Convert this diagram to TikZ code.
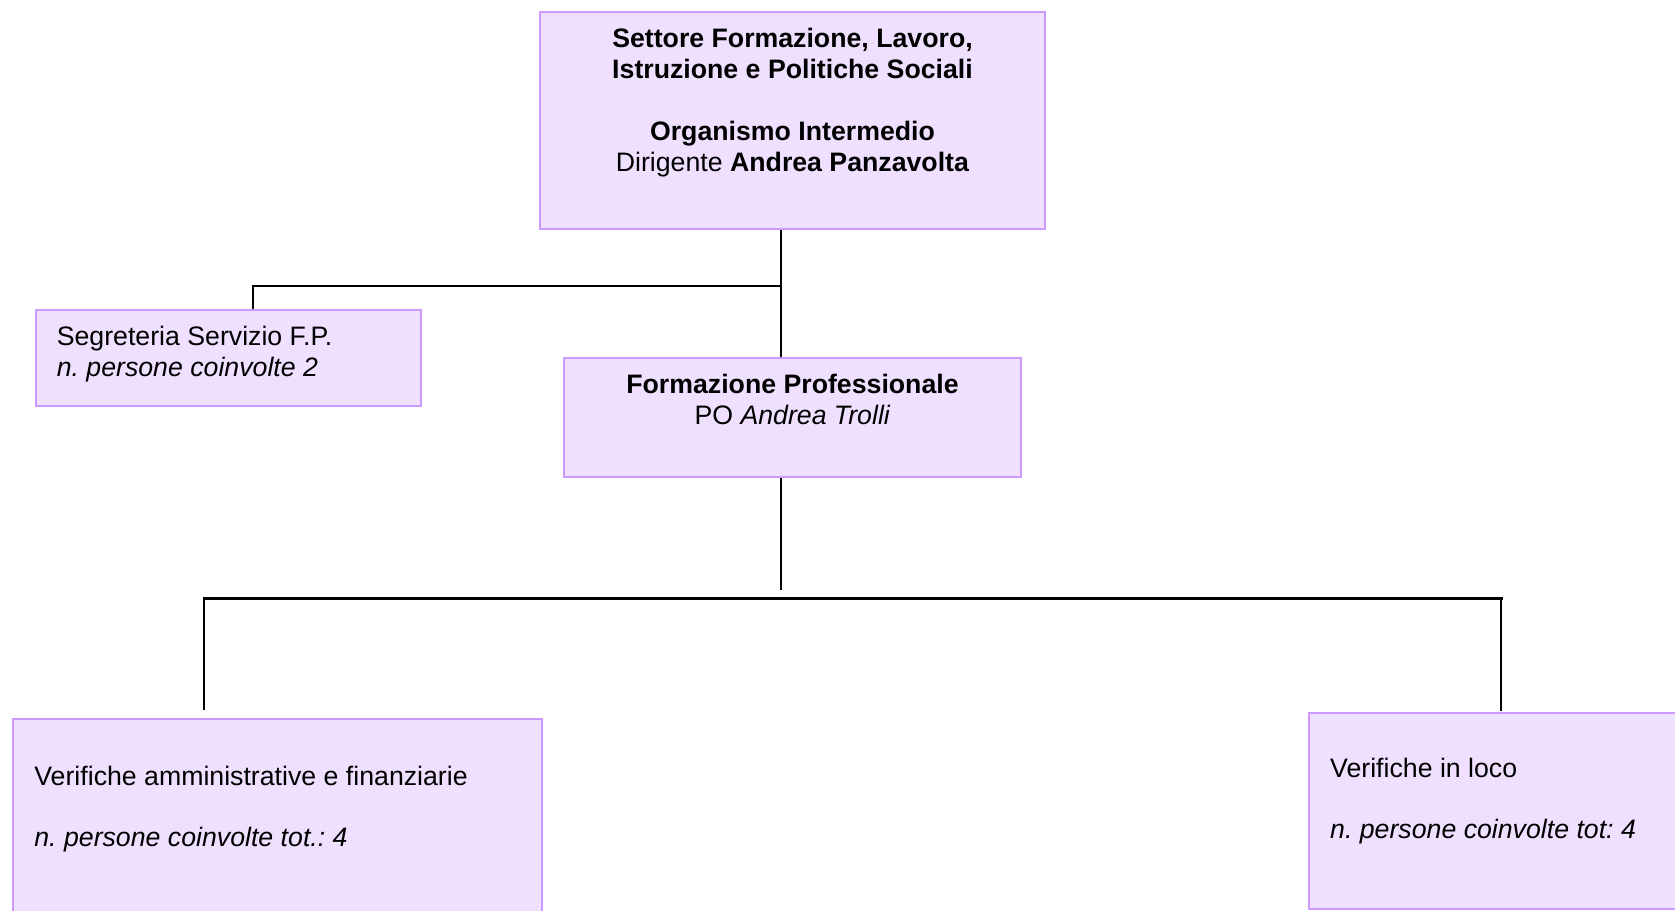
\documentclass[tikz,border=0pt]{standalone}
\usepackage{fontspec}
\setmainfont{Liberation Sans}
\usetikzlibrary{fit}
\definecolor{boxfill}{RGB}{240,224,255}
\definecolor{boxline}{RGB}{204,153,255}
\frenchspacing
\tikzset{
  orgbox/.style={draw=boxline, fill=boxfill, line width=2pt, inner sep=0pt, rectangle},
  conn/.style={draw=black, line width=2pt},
  busline/.style={draw=black, line width=3pt, line cap=rect},
  lbl/.style={inner sep=0pt, font=\fontsize{26.7}{31}\selectfont},
}
\begin{document}
\begin{tikzpicture}[x=1pt,y=-1pt]
\useasboundingbox (0,0) rectangle (1675,910);
\clip (0,0) rectangle (1675,910);
\fill[white] (0,0) rectangle (1675,910);

% boxes
\node[orgbox, fit={(540,12) (1045,229)}] (top) {};
\node[orgbox, fit={(36,310) (421,406)}] (seg) {};
\node[orgbox, fit={(564,358) (1021,477)}] (fp) {};
\node[orgbox, fit={(13,719) (542,935)}] (amm) {};
\node[orgbox, fit={(1309,712.5) (1700,909)}] (loco) {};

% texts
\node[lbl, anchor=base] (toptext) at (792.5,47)
  {\parbox[t]{500pt}{\centering
   \textbf{Settore Formazione, Lavoro,}\\
   \textbf{Istruzione e Politiche Sociali}\\[31pt]
   \textbf{Organismo Intermedio}\\
   Dirigente \textbf{Andrea Panzavolta}}};
\node[lbl, anchor=base west] (segtext) at (56.6,345)
  {\parbox[t]{360pt}{\raggedright
   Segreteria Servizio F.P.\\
   \textit{n. persone coinvolte 2}}};
\node[lbl, anchor=base] (fptext) at (792.5,393)
  {\parbox[t]{440pt}{\centering
   \textbf{Formazione Professionale}\\
   PO \textit{Andrea Trolli}}};
\node[lbl, anchor=base west] (ammtext) at (34.2,785)
  {\parbox[t]{500pt}{\raggedright
   Verifiche amministrative e finanziarie\\[30pt]
   \textit{n. persone coinvolte tot.: 4}}};
\node[lbl, anchor=base west] (locotext) at (1330,777)
  {\parbox[t]{340pt}{\raggedright
   Verifiche in loco\\[30pt]
   \textit{n. persone coinvolte tot: 4}}};

% connectors
\coordinate (jx) at (781,286);
\coordinate (segx) at (253,286);
\coordinate (jy) at (781,590);
\coordinate (busl) at (204,598);
\coordinate (busr) at (1501,598);
\coordinate (ammend) at (204,710);
\coordinate (locoend) at (1501,711);

\draw[conn] (top.south -| jx) -- (fp.north -| jx);
\draw[conn] (jx) -| (seg.north -| segx);
\draw[conn] (fp.south -| jx) -- (jy);
\draw[conn, line width=2.5pt] (busl) -- (ammend);
\draw[conn, line width=2.5pt] (busr) -- (locoend);
\draw[busline] (busl) -- (busr);
\end{tikzpicture}
\end{document}
